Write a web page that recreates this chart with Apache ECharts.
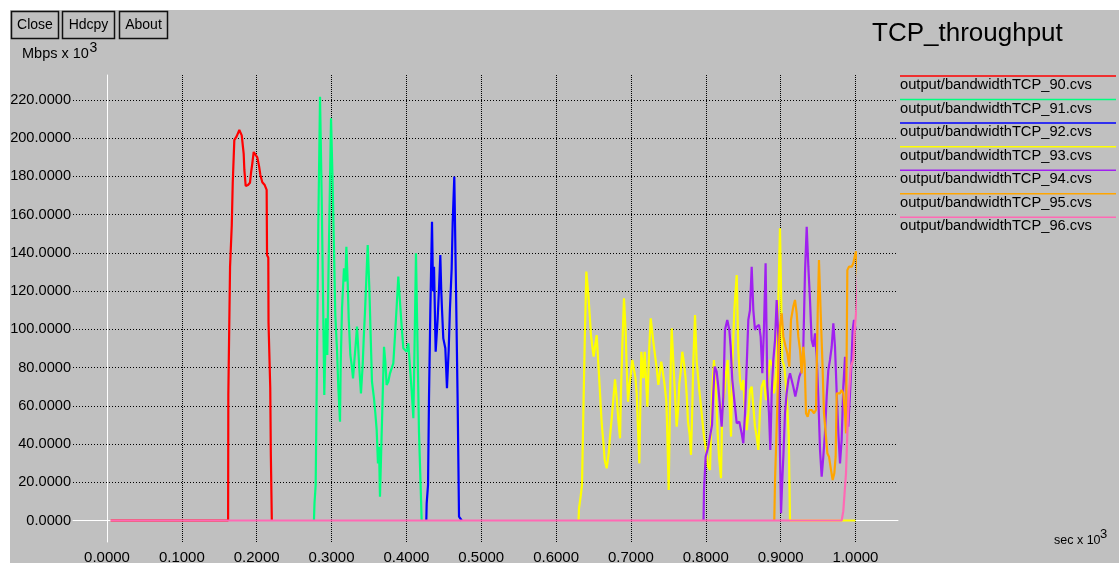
<!DOCTYPE html>
<html>
<head>
<meta charset="utf-8">
<script src="https://cdn.jsdelivr.net/npm/echarts@6/dist/echarts.min.js"></script>
<style>
  html, body { margin: 0; padding: 0; background: #ffffff; width: 1119px; height: 563px; overflow: hidden; }
  #chart { position: absolute; left: 10px; top: 10px; width: 1109px; height: 553px; }
</style>
</head>
<body>
<div id="chart"></div>
<script>
// ---- data ----
const titleText = 'TCP_throughput';
const yUnit = 'Mbps x 10';
const xUnit = 'sec x 10';
const buttonLabels = ['Close', 'Hdcpy', 'About'];
const seriesNames = [
  'output/bandwidthTCP_90.cvs', 'output/bandwidthTCP_91.cvs', 'output/bandwidthTCP_92.cvs',
  'output/bandwidthTCP_93.cvs', 'output/bandwidthTCP_94.cvs', 'output/bandwidthTCP_95.cvs',
  'output/bandwidthTCP_96.cvs'
];
const seriesColors = ['#ff0000', '#00ff7f', '#0000ff', '#ffff00', '#a020f0', '#ffa500', '#ff69b4'];

const s90 = [[0.005,0],[0.1618,0],[0.1621,65.7],[0.1641,66.5],[0.1644,132.8],[0.1664,133.5],[0.1667,154.6],[0.1677,155.5],[0.168,176.7],[0.1701,199],[0.1732,201],[0.1768,204.3],[0.18,201.5],[0.1822,200.6],[0.1826,192],[0.1835,183.4],[0.1853,175],[0.1884,175.5],[0.191,176.7],[0.1924,181.8],[0.1942,187],[0.196,192.8],[0.1986,192],[0.2008,190],[0.2031,185.5],[0.2049,180.8],[0.2075,177],[0.2107,175.5],[0.2133,173],[0.2138,138.9],[0.2155,137.5],[0.2158,103.3],[0.2178,102.5],[0.2181,69.3],[0.2185,68.5],[0.2189,34.3],[0.2198,34],[0.2202,0]];

const s91 = [[0.2765,0],[0.2772,9],[0.2788,18.6],[0.2806,85.7],[0.2823,153.7],[0.2846,221.7],[0.2868,169.4],[0.2886,118],[0.2903,65.7],[0.2926,105.8],[0.2943,86.6],[0.2957,125],[0.2975,167.7],[0.2993,210.4],[0.3015,175.5],[0.3033,141.5],[0.305,107.5],[0.3073,89.2],[0.309,70],[0.3113,51.7],[0.3122,81.4],[0.314,111.2],[0.3166,132],[0.3184,125],[0.3198,143.2],[0.3216,124.1],[0.3229,105.8],[0.3251,86.6],[0.3269,81.4],[0.3287,74.4],[0.3304,83.1],[0.3322,91.8],[0.334,101.4],[0.3358,89.2],[0.3371,79.6],[0.3393,66.5],[0.3416,81.4],[0.343,95.3],[0.3447,109.3],[0.3465,126.7],[0.3483,144.1],[0.3505,121.5],[0.3523,96.2],[0.354,72.6],[0.3567,63.9],[0.3585,56.1],[0.3603,47.3],[0.362,29.9],[0.3634,38.6],[0.3647,12.5],[0.3665,38.6],[0.3683,64.8],[0.3701,90.9],[0.3718,83.1],[0.3736,70.9],[0.3758,72.6],[0.3781,77],[0.3803,79.6],[0.3825,82.2],[0.3848,97],[0.387,111.9],[0.3892,127.6],[0.3914,114.5],[0.3937,101.4],[0.3959,90.1],[0.3981,89.2],[0.4004,88.3],[0.4026,92.7],[0.4048,92.7],[0.4071,67.4],[0.4093,53.5],[0.4111,96.2],[0.4128,139.8],[0.4151,140.6],[0.4168,46.5],[0.4186,46.5],[0.4204,0]];

const s92 = [[0.4266,0],[0.4271,9],[0.4289,18.6],[0.4302,63.9],[0.432,110.1],[0.4342,156.3],[0.4356,120],[0.4369,132.8],[0.4391,88.3],[0.4418,105.8],[0.4436,121.5],[0.4453,138.9],[0.4465,121],[0.4476,110.1],[0.4493,95.3],[0.452,90.1],[0.4542,69.2],[0.4565,89.2],[0.4582,111],[0.4605,132],[0.4618,155.5],[0.464,179.9],[0.4663,120.6],[0.4685,61.3],[0.4703,2],[0.4739,0]];

const s93 = [[0.63,0],[0.6306,6.4],[0.6328,12.5],[0.6346,18.6],[0.6364,56.1],[0.6382,92.7],[0.6404,130.2],[0.6431,118],[0.6449,107.5],[0.6466,97],[0.6484,90.9],[0.6502,85.7],[0.652,90.9],[0.6542,97],[0.6564,82.2],[0.6587,66.5],[0.6609,50.9],[0.6631,41.2],[0.6649,31.7],[0.6676,27.3],[0.6703,35.2],[0.672,43.9],[0.6743,53.5],[0.6764,63],[0.6787,73.9],[0.681,63.9],[0.6831,52.6],[0.6854,43],[0.6867,67.4],[0.6885,91.8],[0.6907,116.2],[0.693,97.9],[0.6943,79.6],[0.6961,62.2],[0.6978,70],[0.6997,76.1],[0.7018,84],[0.7041,84.9],[0.7058,75.3],[0.7077,66.5],[0.7094,48.2],[0.7112,29.9],[0.7125,59.5],[0.7139,88.3],[0.7165,74.4],[0.7184,88.3],[0.7201,74.4],[0.7219,59.5],[0.7232,75.3],[0.7245,90.9],[0.7264,105.8],[0.7281,99.7],[0.7299,93.5],[0.7321,86.6],[0.7344,79.6],[0.7366,70.9],[0.7388,77.9],[0.7405,83.1],[0.7428,77],[0.745,70.9],[0.7473,62.2],[0.7486,45],[0.7504,16],[0.7526,71.8],[0.7544,100.5],[0.7566,83.1],[0.7588,66.5],[0.7611,49.1],[0.7633,59.5],[0.7646,71.8],[0.7665,77.9],[0.7686,88.3],[0.7709,82.2],[0.7726,76.1],[0.7745,65.7],[0.7762,51.7],[0.7785,44.7],[0.7802,34.3],[0.782,59.5],[0.7833,83.1],[0.7856,107.5],[0.7878,83.1],[0.7913,68.3],[0.7945,56.1],[0.7976,43.9],[0.8003,36.9],[0.8033,28.1],[0.8056,26.4],[0.8083,64.8],[0.8109,84],[0.8136,66.5],[0.8159,45.6],[0.8176,33.4],[0.8203,22.1],[0.822,59.5],[0.8247,66.5],[0.827,77],[0.8292,84],[0.8314,64.8],[0.8337,43.9],[0.8354,80],[0.8381,110],[0.8413,128.4],[0.8434,89.2],[0.8457,73.5],[0.8479,68.3],[0.8501,73.5],[0.8524,56.1],[0.8546,47.3],[0.8568,56.1],[0.859,68.3],[0.8613,70],[0.8657,49.1],[0.868,43.9],[0.8702,36.9],[0.8724,57.8],[0.8746,70],[0.8777,73.5],[0.8804,63],[0.8822,70],[0.8858,84],[0.8894,80.5],[0.8911,66.5],[0.8938,73.5],[0.8969,115.4],[0.8991,152.9],[0.9022,84],[0.9049,80.5],[0.908,66.5],[0.9108,43.9],[0.9125,0],[1.0,0]];

const s94 = [[0.797,0],[0.7976,16],[0.7998,33.4],[0.8033,38.6],[0.8056,43.9],[0.8083,50],[0.81,66.5],[0.8119,80.5],[0.8145,77.9],[0.8167,70],[0.819,59.5],[0.8212,49.1],[0.8234,64.8],[0.8256,99.7],[0.8287,104.9],[0.8314,99.7],[0.8332,90.9],[0.8354,73.5],[0.8381,63],[0.8413,50.9],[0.8448,51.7],[0.8479,45.6],[0.8501,40.4],[0.8524,56.1],[0.8546,80.5],[0.8568,104.9],[0.859,110.1],[0.8613,132.8],[0.8635,110.1],[0.8657,99.7],[0.868,101.4],[0.8711,102.3],[0.8733,96.2],[0.8755,77],[0.8777,100.5],[0.8799,134.6],[0.8822,70],[0.8844,56.1],[0.8862,36.9],[0.888,66.5],[0.8902,84],[0.8925,94.4],[0.8947,115.4],[0.8969,96.2],[0.8982,56.1],[0.9005,3.8],[0.9022,21.2],[0.9036,33.4],[0.9058,56.1],[0.908,66.5],[0.9102,73.5],[0.9125,77],[0.9147,73.5],[0.9169,70],[0.9196,64.8],[0.9223,70],[0.9249,75.3],[0.9281,78.7],[0.9303,90.9],[0.9325,129.3],[0.9348,153.7],[0.937,132.8],[0.9392,115.4],[0.9414,94.4],[0.9437,90.9],[0.9459,97.9],[0.9482,85.7],[0.9503,64.8],[0.9526,36.9],[0.9548,22.9],[0.957,33.4],[0.9592,45.6],[0.9615,64.8],[0.9637,78.7],[0.9659,84],[0.9682,90.9],[0.9704,103.2],[0.9726,90.9],[0.9749,66.5],[0.9771,45.6],[0.9793,29.9],[0.9815,42.1],[0.9837,70],[0.986,85.7],[0.9882,59.5],[0.9904,49.1],[0.9927,66.5],[0.9944,80.5],[0.9962,99.7],[0.998,104.9],[1.0002,99.7]];

const s95 = [[0.8915,0],[0.8925,21.2],[0.8955,59.5],[0.8974,89.2],[0.8991,101.4],[0.9014,108.4],[0.9036,96.2],[0.9067,90.9],[0.9089,87.5],[0.9116,80.5],[0.9138,104.9],[0.9169,111.9],[0.9192,115.4],[0.9214,108.4],[0.9236,96.2],[0.9259,89.2],[0.9281,77],[0.9303,90.9],[0.9321,82.2],[0.9339,56.1],[0.9361,54.3],[0.9383,57.8],[0.9414,57.8],[0.9446,56.1],[0.9472,57.8],[0.9495,108.4],[0.9512,136.3],[0.9535,108.4],[0.9557,84],[0.9579,56.1],[0.9602,45.6],[0.9624,35.2],[0.9646,33.4],[0.9673,26.4],[0.9695,21.2],[0.9717,24.7],[0.9735,33.4],[0.9749,66.5],[0.9771,66.5],[0.9793,66.5],[0.9815,68.3],[0.9837,66.5],[0.986,56.1],[0.9873,45.6],[0.9891,131],[0.9913,132.8],[0.9949,132.8],[0.9971,134.6],[0.9989,138],[1.0007,140.8],[1.0024,132.8],[1.0042,122.3],[1.006,115.4]];

const s96 = [[0.005,0],[0.9815,0],[0.9837,4.9],[0.986,5.5],[0.9873,24.7],[0.9891,45.6],[0.9913,66.5],[0.9936,80.5],[0.9953,82.2],[0.9971,84],[0.9993,101.4],[1.0016,113],[1.0038,132.8],[1.006,150.3]];

const allSeries = [s90, s91, s92, s93, s94, s95, s96];

// ---- chart ----
const FONT = '"Liberation Sans", Arial, Helvetica, sans-serif';
const chart = echarts.init(document.getElementById('chart'), null, { renderer: 'canvas' });

const graphics = [];
// buttons
const btnBoxes = [[1, 1, 48, 28], [52, 1, 53, 28], [109, 1, 49, 28]];
buttonLabels.forEach((lab, i) => {
  const b = btnBoxes[i];
  graphics.push({
    type: 'rect', shape: { x: b[0] + 0.5, y: b[1] + 0.5, width: b[2] - 1, height: b[3] - 1 },
    style: { fill: 'none', stroke: '#111', lineWidth: 1.5 }, silent: true
  });
  graphics.push({
    type: 'text', x: b[0] + b[2] / 2, y: b[1] + b[3] / 2 + 0.5,
    style: { text: lab, fill: '#000', font: '14px ' + FONT, textAlign: 'center', textVerticalAlign: 'middle' }
  });
});
// axis units
graphics.push({ type: 'text', x: 12, y: 44, style: { text: yUnit, fill: '#000', font: '14.5px ' + FONT, textAlign: 'left', textVerticalAlign: 'middle' } });
graphics.push({ type: 'text', x: 79.5, y: 38.5, style: { text: '3', fill: '#000', font: '14px ' + FONT, textAlign: 'left', textVerticalAlign: 'middle' } });
graphics.push({ type: 'text', x: 1044, y: 531, style: { text: xUnit, fill: '#000', font: '12.5px ' + FONT, textAlign: 'left', textVerticalAlign: 'middle' } });
graphics.push({ type: 'text', x: 1090, y: 524.5, style: { text: '3', fill: '#000', font: '13px ' + FONT, textAlign: 'left', textVerticalAlign: 'middle' } });
// title
graphics.push({ type: 'text', x: 862, y: 24, style: { text: titleText, fill: '#000', font: '26px ' + FONT, textAlign: 'left', textVerticalAlign: 'middle' } });
// legend
seriesNames.forEach((nm, i) => {
  const ly = 66 + i * 23.55;
  graphics.push({ type: 'line', shape: { x1: 890, y1: ly, x2: 1106, y2: ly }, style: { stroke: seriesColors[i], lineWidth: 1.5 }, silent: true });
  graphics.push({ type: 'text', x: 890, y: ly + 9, style: { text: nm, fill: '#000', font: '14.7px ' + FONT, textAlign: 'left', textVerticalAlign: 'middle' } });
});

const vGridLine = { show: true, lineStyle: { color: '#000', width: 1, type: [1, 1] } };
const hGridLine = { show: true, lineStyle: { color: '#000', width: 1, type: [1, 2] } };
const hidden = { axisLine: { show: false }, axisTick: { show: false }, axisLabel: { show: false }, splitLine: { show: false } };
const whiteLine = { show: true, onZero: false, lineStyle: { color: '#ffffff', width: 1 } };

const option = {
  backgroundColor: '#c0c0c0',
  animation: false,
  textStyle: { fontFamily: FONT },
  grid: [
    // data area (0..1 by 0..220)
    { left: 97, top: 90, width: 748.5, height: 420.5, containLabel: false, outerBoundsMode: 'none' },
    // horizontal grid lines / y labels (extended to the left and right)
    { left: 63, top: 90, width: 825, height: 420.5, containLabel: false, outerBoundsMode: 'none' },
    // vertical grid lines / x labels (extended up and down)
    { left: 97, top: 65, width: 748.5, height: 467, containLabel: false, outerBoundsMode: 'none' }
  ],
  xAxis: [
    Object.assign({ type: 'value', gridIndex: 0, min: 0, max: 1, interval: 0.1 }, hidden),
    Object.assign({ type: 'value', gridIndex: 1, min: 0, max: 1, interval: 0.1 }, hidden, { axisLine: whiteLine, position: 'bottom' }),
    {
      type: 'value', gridIndex: 2, min: 0, max: 1, interval: 0.1,
      axisLine: { show: false }, axisTick: { show: false },
      axisLabel: { show: true, margin: 8, color: '#000', fontSize: 15, fontFamily: FONT, formatter: v => v.toFixed(4) },
      splitLine: vGridLine
    }
  ],
  yAxis: [
    Object.assign({ type: 'value', gridIndex: 0, min: 0, max: 220, interval: 20 }, hidden),
    {
      type: 'value', gridIndex: 1, min: 0, max: 220, interval: 20,
      axisLine: { show: false }, axisTick: { show: false },
      axisLabel: { show: true, margin: 2, color: '#000', fontSize: 14.6, fontFamily: FONT, formatter: v => v.toFixed(4) },
      splitLine: hGridLine
    },
    Object.assign({ type: 'value', gridIndex: 2, min: 0, max: 1, interval: 0.5 }, hidden, { axisLine: whiteLine, position: 'left' })
  ],
  legend: { show: false },
  graphic: { elements: graphics },
  series: allSeries.map((d, i) => ({
    name: seriesNames[i],
    type: 'line',
    xAxisIndex: 0, yAxisIndex: 0,
    data: d,
    showSymbol: false,
    symbol: 'none',
    clip: false,
    lineStyle: { color: seriesColors[i], width: 2.2 },
    itemStyle: { color: seriesColors[i] },
    z: 3 + i
  }))
};
chart.setOption(option);
</script>
</body>
</html>
